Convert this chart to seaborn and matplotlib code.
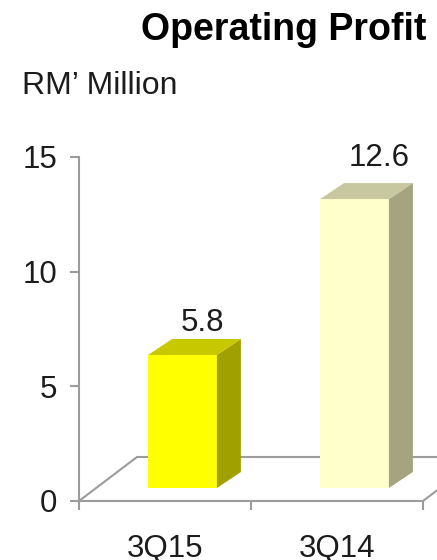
import matplotlib
matplotlib.use("Agg")
import matplotlib.pyplot as plt
import seaborn as sns
from matplotlib.patches import Polygon

categories = ["3Q15", "3Q14"]
values = [5.8, 12.6]
y_ticks = [0, 5, 10, 15]

TXT = "#1c1c1c"
AX = "#9c9c9c"
W, H = 437, 560
front = ["#FFFF00", "#FFFFCC"]
top = ["#C8C800", "#C8C8A0"]
side = ["#A0A000", "#A4A480"]

sns.set_theme(style="white")
plt.rcParams["font.family"] = ["Liberation Sans", "DejaVu Sans"]

fig = plt.figure(figsize=(W / 100, H / 100), dpi=100, facecolor="white")
ax = fig.add_axes([79 / W, 1 - 501 / H, 344 / W, 344 / H])

sns.barplot(x=categories, y=values, hue=categories, palette=front, legend=False,
            width=0.4, saturation=1, ax=ax, zorder=3, linewidth=0)
ax.set_xlim(-0.5, 1.5)
ax.set_ylim(0, 15)

px_x = 2 / 344          # data units per pixel, x
px_y = 15 / 344         # data units per pixel, y

# floor of the 3-D frame
fdx, fdy = 58 * px_x, 44 * px_y
ax.plot([-0.5, -0.5 + fdx, 1.5 + fdx], [0, fdy, fdy], color=AX, lw=1.5, zorder=1, clip_on=False)
ax.plot([1.5, 1.5 + fdx], [0, fdy], color=AX, lw=1.5, zorder=1, clip_on=False)

# extrude the bars
bx, by = 17.5 * px_x, 13 * px_y
dx, dy = 24 * px_x, 16 * px_y
label_off = [(20, 24), (25, 33)]
for i, p in enumerate(ax.patches):
    p.set_x(p.get_x() + bx)
    p.set_y(by)
    x0, x1 = p.get_x(), p.get_x() + p.get_width()
    y0, y1 = by, by + p.get_height()
    ax.add_patch(Polygon([(x1, y0), (x1 + dx, y0 + dy), (x1 + dx, y1 + dy), (x1, y1)],
                         facecolor=side[i], edgecolor="none", zorder=3, clip_on=False))
    ax.add_patch(Polygon([(x0, y1), (x0 + dx, y1 + dy), (x1 + dx, y1 + dy), (x1, y1)],
                         facecolor=top[i], edgecolor="none", zorder=3, clip_on=False))
    ax.annotate(f"{values[i]:.1f}", xy=((x0 + x1) / 2, y1), xytext=label_off[i],
                textcoords="offset pixels", ha="center", va="baseline",
                fontsize=22.5, color=TXT, annotation_clip=False)

sns.despine(ax=ax, top=True, right=True)
for s in ["left", "bottom"]:
    ax.spines[s].set_color(AX)
    ax.spines[s].set_linewidth(1.5)

ax.set_yticks(y_ticks)
ax.set_yticklabels([str(t) for t in y_ticks])
ax.tick_params(axis="y", which="major", length=6.5, width=1.5, color=AX, labelcolor=TXT,
               labelsize=22.5, pad=9, left=True)
ax.set_xticks([-0.5, 0.5, 1.5])
ax.set_xticklabels([])
ax.set_xticks([0, 1], minor=True)
ax.set_xticklabels(categories, minor=True)
ax.tick_params(axis="x", which="major", length=6.5, width=1.5, color=AX, bottom=True)
ax.tick_params(axis="x", which="minor", length=0, labelcolor=TXT, labelsize=22.5, pad=24)

fig.text(141 / W, 1 - 40 / H, "Operating Profit", fontsize=27, fontweight="bold",
         color="black", ha="left", va="baseline")
fig.text(22 / W, 1 - 94 / H, "RM\u2019 Million", fontsize=23, color=TXT,
         ha="left", va="baseline")

fig.savefig("out.png", dpi=100, facecolor="white")
